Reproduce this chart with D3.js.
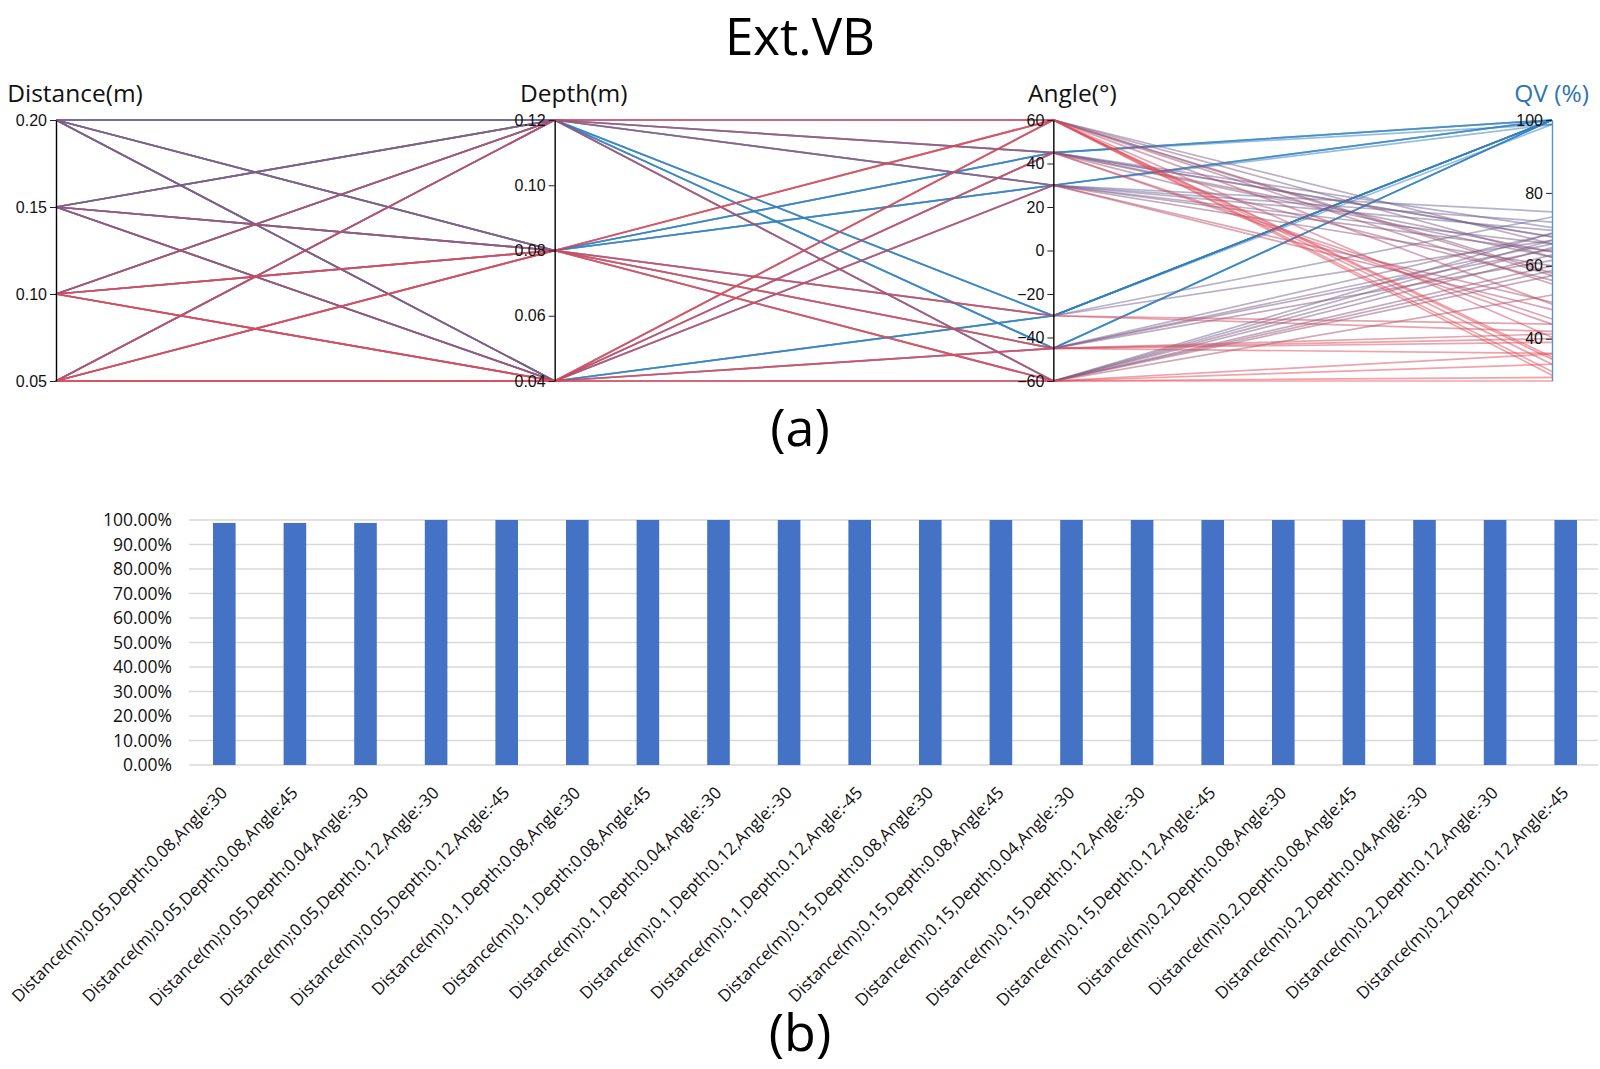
<!DOCTYPE html>
<html>
<head>
<meta charset="utf-8">
<script src="https://cdn.jsdelivr.net/npm/d3@7"></script>
<style>
body { margin: 0; background: #fff; }
svg text { font-family: "Open Sans", sans-serif; }
</style>
</head>
<body>
<svg id="chart" width="1600" height="1069"></svg>
<script>

// ---- (a) parallel coordinates data ----
var distanceLevels = [0.05, 0.10, 0.15, 0.20];
var depthLevels = [0.04, 0.08, 0.12];
var angleLevels = [60, 45, 30, -30, -45, -60];
// QV (%) per distance/depth pair, columns follow angleLevels
var qvTable = [
	[31, 44, 48, 98.8, 40, 28.4],      // 0.05 / 0.04
	[30, 98.8, 98.8, 42, 36, 29.4],    // 0.05 / 0.08
	[35, 56, 60, 100, 100, 52],        // 0.05 / 0.12
	[34.4, 45.4, 50, 100, 39, 33],     // 0.10 / 0.04
	[33, 100, 100, 44, 41.3, 35.8],    // 0.10 / 0.08
	[40.4, 62.4, 64, 100, 100, 57.3],  // 0.10 / 0.12
	[55, 63.8, 66, 100, 61.5, 58.7],   // 0.15 / 0.04
	[49.5, 100, 100, 67, 64.5, 60],    // 0.15 / 0.08
	[58, 68, 72, 100, 100, 65],        // 0.15 / 0.12
	[62.4, 67.9, 69.7, 100, 66, 63],   // 0.20 / 0.04
	[57.3, 100, 100, 73.4, 68.8, 67],  // 0.20 / 0.08
	[66, 70.5, 74.8, 100, 100, 69]     // 0.20 / 0.12
];
var distanceTicks = [0.05, 0.10, 0.15, 0.20];
var depthTicks = [0.04, 0.06, 0.08, 0.10, 0.12];
var angleTicks = [-60, -40, -20, 0, 20, 40, 60];
var qvTicks = [40, 60, 80, 100];

// ---- (b) bar chart data ----
var barLabels = [
	"Distance(m):0.05,Depth:0.08,Angle:30",
	"Distance(m):0.05,Depth:0.08,Angle:45",
	"Distance(m):0.05,Depth:0.04,Angle:-30",
	"Distance(m):0.05,Depth:0.12,Angle:-30",
	"Distance(m):0.05,Depth:0.12,Angle:-45",
	"Distance(m):0.1,Depth:0.08,Angle:30",
	"Distance(m):0.1,Depth:0.08,Angle:45",
	"Distance(m):0.1,Depth:0.04,Angle:-30",
	"Distance(m):0.1,Depth:0.12,Angle:-30",
	"Distance(m):0.1,Depth:0.12,Angle:-45",
	"Distance(m):0.15,Depth:0.08,Angle:30",
	"Distance(m):0.15,Depth:0.08,Angle:45",
	"Distance(m):0.15,Depth:0.04,Angle:-30",
	"Distance(m):0.15,Depth:0.12,Angle:-30",
	"Distance(m):0.15,Depth:0.12,Angle:-45",
	"Distance(m):0.2,Depth:0.08,Angle:30",
	"Distance(m):0.2,Depth:0.08,Angle:45",
	"Distance(m):0.2,Depth:0.04,Angle:-30",
	"Distance(m):0.2,Depth:0.12,Angle:-30",
	"Distance(m):0.2,Depth:0.12,Angle:-45"
];
var barValues = [0.988, 0.988, 0.988, 1, 1, 1, 1, 1, 1, 1, 1, 1, 1, 1, 1, 1, 1, 1, 1, 1];
var barTicks = [0, 0.1, 0.2, 0.3, 0.4, 0.5, 0.6, 0.7, 0.8, 0.9, 1.0];

var svg = d3.select('#chart');

// build records from the design grid
var records = [];
var row = 0;
distanceLevels.forEach(function(dist) {
	depthLevels.forEach(function(dep) {
		angleLevels.forEach(function(ang, j) {
			records.push({Distance: dist, Depth: dep, Angle: ang, QV: qvTable[row][j]});
		});
		row++;
	});
});

svg.append('text')
	.attr('x', 800).attr('y', 55)
	.attr('text-anchor', 'middle')
	.style('font-size', '51px')
	.text('Ext.VB');

// ---------- parallel coordinates ----------
var dims = ['Distance', 'Depth', 'Angle', 'QV'];
var pcTop = 120, pcBottom = 381;

var x = d3.scalePoint().domain(dims).range([56, 1552]);

var y = {
	Distance: d3.scaleLinear().domain([0.05, 0.20]).range([pcBottom, pcTop]),
	Depth: d3.scaleLinear().domain([0.04, 0.12]).range([pcBottom, pcTop]),
	Angle: d3.scaleLinear().domain([-60, 60]).range([pcBottom, pcTop]),
	QV: d3.scaleLinear().domain([d3.min(records, function(d) { return d.QV; }), 100]).range([pcBottom, pcTop])
};

var color = d3.scaleLinear()
	.domain([28, 45, 62, 75, 100])
	.range(['#ec4650', '#c84a62', '#82587f', '#6a6a9e', '#2f7fc1']);

var line = d3.line();

// high QV first so the red lines sit on top
records.sort(function(a, b) { return b.QV - a.QV; });

svg.append('g')
	.selectAll('path')
	.data(records)
	.enter()
	.append('path')
	.attr('d', function(d) {
		return line(dims.map(function(k) { return [x(k), y[k](d[k])]; }));
	})
	.attr('fill', 'none')
	.attr('stroke', function(d) { return color(d.QV); })
	.attr('stroke-opacity', 0.5)
	.attr('stroke-width', 1.7);

var tickSets = {Distance: distanceTicks, Depth: depthTicks, Angle: angleTicks, QV: qvTicks};
var tickFormats = {Distance: d3.format('.2f'), Depth: d3.format('.2f'), Angle: d3.format('d'), QV: d3.format('d')};
var titles = {Distance: 'Distance(m)', Depth: 'Depth(m)', Angle: 'Angle(°)', QV: 'QV (%)'};

dims.forEach(function(k) {
	var g = svg.append('g')
		.attr('transform', 'translate(' + x(k) + ',0)')
		.call(d3.axisLeft(y[k]).tickValues(tickSets[k]).tickFormat(tickFormats[k]).tickSize(6).tickSizeOuter(0));
	var axisColor = (k === 'QV') ? '#5a94cc' : '#000';
	g.select('.domain').attr('stroke', axisColor).attr('stroke-width', 1.4);
	g.selectAll('.tick line').attr('stroke', '#222');
	g.selectAll('.tick text')
		.attr('fill', '#111')
		.style('font-family', 'Liberation Sans, Arial, sans-serif')
		.style('font-size', '16px');
	g.select('.domain').raise();

	var t = svg.append('text')
		.attr('y', 102)
		.style('font-size', '24.5px')
		.attr('fill', k === 'QV' ? '#2f73b5' : '#111')
		.text(titles[k]);
	if (k === 'QV') {
		t.attr('x', 1589).attr('text-anchor', 'end');
	} else {
		t.attr('x', x(k) + 19).attr('text-anchor', 'middle');
	}
});

svg.append('text')
	.attr('x', 800).attr('y', 446)
	.attr('text-anchor', 'middle')
	.style('font-size', '52px')
	.text('(a)');

// ---------- bar chart ----------
var bx = d3.scaleBand().domain(barLabels).range([189, 1601]).paddingInner(0.68).paddingOuter(0.34);
var by = d3.scaleLinear().domain([0, 1]).range([765, 520]);

svg.append('g')
	.selectAll('line')
	.data(barTicks)
	.enter()
	.append('line')
	.attr('x1', 189).attr('x2', 1598)
	.attr('y1', function(d) { return by(d); })
	.attr('y2', function(d) { return by(d); })
	.attr('stroke', '#d9d9d9')
	.attr('stroke-width', 1.3);

svg.append('g')
	.selectAll('rect')
	.data(barValues)
	.enter()
	.append('rect')
	.attr('x', function(d, i) { return bx(barLabels[i]); })
	.attr('width', bx.bandwidth())
	.attr('y', function(d) { return by(d); })
	.attr('height', function(d) { return by(0) - by(d); })
	.attr('fill', '#4472c4');

var yAx = svg.append('g')
	.attr('transform', 'translate(172,0)')
	.call(d3.axisLeft(by).tickValues(barTicks).tickFormat(d3.format('.2%')).tickSize(0).tickPadding(0));
yAx.select('.domain').remove();
yAx.selectAll('text')
	.attr('fill', '#111')
	.style('font-size', '17.5px');

svg.append('g')
	.selectAll('text')
	.data(barLabels)
	.enter()
	.append('text')
	.attr('transform', function(d) {
		return 'translate(' + (bx(d) + bx.bandwidth() / 2 + 4) + ',794) rotate(-45)';
	})
	.attr('text-anchor', 'end')
	.attr('fill', '#111')
	.style('font-size', '17px')
	.text(function(d) { return d; });

svg.append('text')
	.attr('x', 800).attr('y', 1051)
	.attr('text-anchor', 'middle')
	.style('font-size', '52px')
	.text('(b)');

</script>
</body>
</html>
